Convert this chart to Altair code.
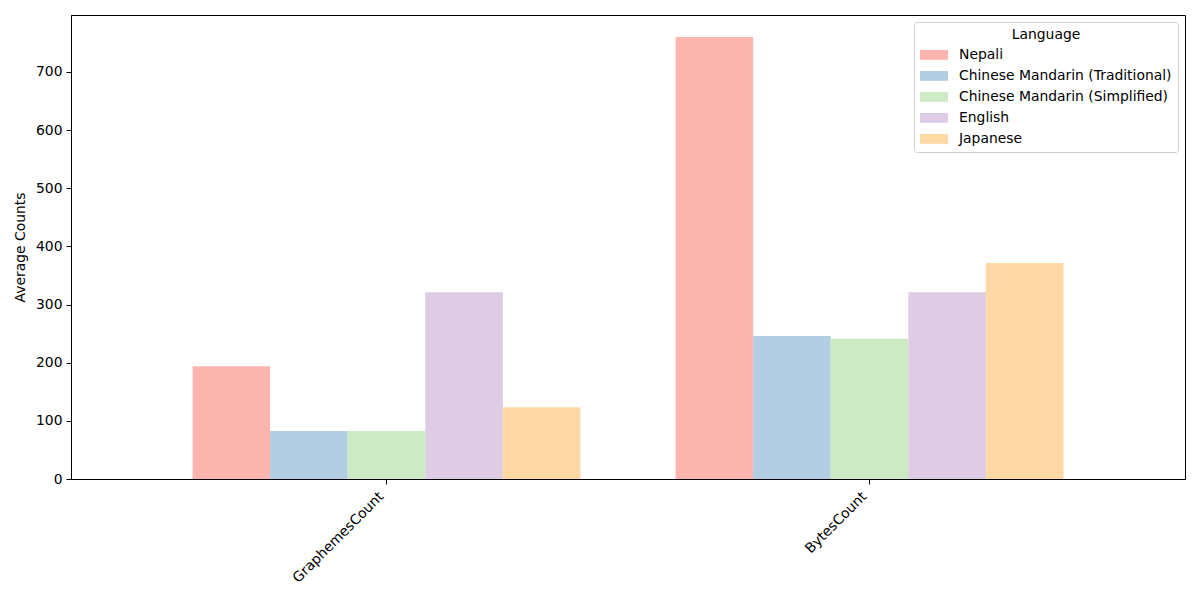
import altair as alt
import pandas as pd

metrics = ["GraphemesCount", "BytesCount"]
languages = ["Nepali", "Chinese Mandarin (Traditional)", "Chinese Mandarin (Simplified)", "English", "Japanese"]
colors = ["#fbb4ae", "#b3cde3", "#ccebc5", "#decbe4", "#fed9a6"]
graphemes = [194, 82.5, 82.5, 321, 123.5]
bytes_ = [760, 246, 241, 321, 371.5]

rows = []
for lang, g, b in zip(languages, graphemes, bytes_):
    rows.append({"Metric": "GraphemesCount", "Language": lang, "Value": g})
    rows.append({"Metric": "BytesCount", "Language": lang, "Value": b})
df = pd.DataFrame(rows)

font = "DejaVu Sans"
fs = 13.9

chart = alt.Chart(df).mark_bar().encode(
    x=alt.X("Metric:N", sort=metrics, title=None,
            scale=alt.Scale(paddingInner=0.197, paddingOuter=0.2516),
            axis=alt.Axis(labelAngle=315, labelAlign="right", labelBaseline="bottom",
                          labelFontSize=fs, labelFont=font, labelColor="black",
                          tickColor="black", tickSize=5, labelPadding=15,
                          domainColor="black", grid=False)),
    xOffset=alt.XOffset("Language:N", sort=languages, scale=alt.Scale(paddingInner=0, paddingOuter=0)),
    y=alt.Y("Value:Q", title="Average Counts",
            scale=alt.Scale(domain=[0, 798], nice=False, zero=True),
            axis=alt.Axis(values=[0, 100, 200, 300, 400, 500, 600, 700], grid=False,
                          labelFontSize=fs, labelFont=font, labelColor="black",
                          tickColor="black", tickSize=5, labelPadding=4,
                          domainColor="black", titleFont=font, titleFontSize=fs,
                          titleFontWeight="normal", titleColor="black", titlePadding=8)),
    color=alt.Color("Language:N", sort=languages,
                    scale=alt.Scale(domain=languages, range=colors),
                    legend=alt.Legend(title="Language", orient="top-right", offset=7,
                                      fillColor="white", strokeColor="#d0d0d0", cornerRadius=3,
                                      padding=6, titleAnchor="middle", titleFont=font,
                                      titleFontSize=fs, titleFontWeight="normal", titleColor="black",
                                      labelFont=font, labelFontSize=fs, labelColor="black",
                                      labelLimit=400,
                                      symbolType="M-2,-0.7L2,-0.7L2,0.7L-2,0.7Z",
                                      symbolSize=196, symbolStrokeWidth=0, symbolOpacity=1,
                                      symbolOffset=7,
                                      rowPadding=7, titlePadding=6, labelOffset=18)),
).properties(
    width=1114, height=464,
    background="white",
    autosize=alt.AutoSizeParams(type="none"),
    padding={"left": 63, "top": 7, "right": 7, "bottom": 113},
).configure_view(stroke="black", strokeWidth=1)

chart.save("out.html", embed_options={"renderer": "svg", "actions": False})
